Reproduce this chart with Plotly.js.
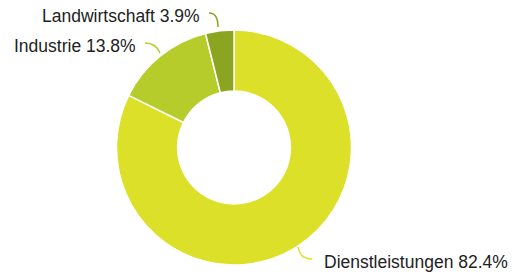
<!DOCTYPE html>
<html><head><meta charset="utf-8">
<script src="https://cdn.plot.ly/plotly-3.0.1.min.js"></script>
<style>html,body{margin:0;padding:0;background:#fff}#chart{width:518px;height:275px}</style>
</head><body><div id="chart"></div>
<script>
const categories = ["Dienstleistungen", "Industrie", "Landwirtschaft"];
const shares = [82.4, 13.8, 3.9];
const colors = ["#dde028", "#b6cc2a", "#8ba520"];

const W = 518, H = 275;
const cx = 234, cy = 147.5, R = 117.5;

const trace = {
  type: "pie",
  labels: categories,
  values: shares,
  sort: false,
  direction: "clockwise",
  rotation: 0,
  hole: 0.48,
  textinfo: "none",
  hoverinfo: "label+percent",
  marker: { colors: colors, line: { color: "#ffffff", width: 1.5 } },
  domain: { x: [(cx - R) / W, (cx + R) / W], y: [1 - (cy + R) / H, 1 - (cy - R) / H] },
  showlegend: false
};

// label placement (annotation positions in pixel space)
const labelPos = [
  { x: 322, y: 262, anchor: "left", path: "M298,247 Q300,259 312,259" },
  { x: 138, y: 46, anchor: "right", path: "M145,43 Q156,43 160,53" },
  { x: 202, y: 16, anchor: "right", path: "M209,13 Q218,13 218,27" }
];

const annotations = categories.map((c, i) => ({
  xref: "x", yref: "y", x: labelPos[i].x, y: labelPos[i].y,
  text: c + " " + shares[i].toFixed(1) + "%",
  showarrow: false, xanchor: labelPos[i].anchor, yanchor: "middle",
  font: { family: "Liberation Sans, Arial, sans-serif", size: 17.5, color: "#222222" }
}));
const shapes = categories.map((c, i) => ({
  type: "path", xref: "x", yref: "y", path: labelPos[i].path,
  line: { color: colors[i], width: 1.5 }
}));

const layout = {
  width: W, height: H,
  margin: { l: 0, r: 0, t: 0, b: 0 },
  paper_bgcolor: "#ffffff", plot_bgcolor: "rgba(0,0,0,0)",
  xaxis: { range: [0, W], visible: false, fixedrange: true },
  yaxis: { range: [H, 0], visible: false, fixedrange: true },
  annotations: annotations,
  shapes: shapes
};

Plotly.newPlot("chart", [trace], layout, { displayModeBar: false, staticPlot: true });
</script>
</body></html>
